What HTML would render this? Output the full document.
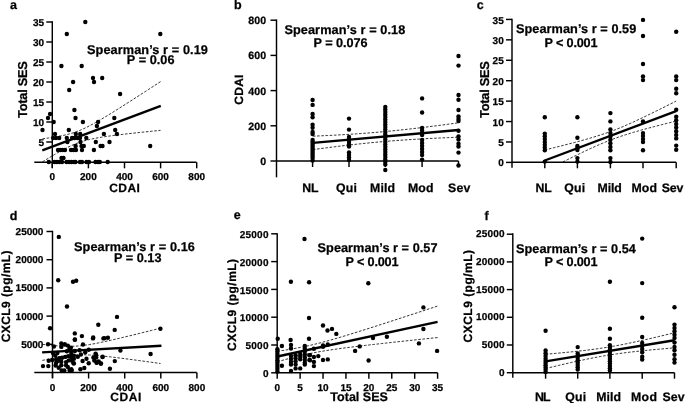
<!DOCTYPE html>
<html><head><meta charset="utf-8"><style>
html,body{margin:0;padding:0;background:#fff;width:685px;height:403px;overflow:hidden}
svg{display:block}
svg{-webkit-font-smoothing:antialiased;filter:grayscale(1) blur(0.3px)}
text{font-family:"Liberation Sans",sans-serif;font-weight:bold;fill:#000;stroke:#000;stroke-width:0.25px;text-rendering:geometricPrecision}
</style></head><body>
<svg width="685" height="403" viewBox="0 0 685 403">
<text x="10.10" y="8.90" font-size="12.5" letter-spacing="0.000">a</text>
<line x1="52.30" y1="21.25" x2="52.30" y2="168.00" stroke="#000" stroke-width="1.45" />
<line x1="46.30" y1="142.00" x2="52.30" y2="142.00" stroke="#000" stroke-width="1.45" />
<text x="38.55" y="145.58" font-size="10.0" letter-spacing="0.000">5</text>
<line x1="46.30" y1="122.00" x2="52.30" y2="122.00" stroke="#000" stroke-width="1.45" />
<text x="33.00" y="125.58" font-size="10.0" letter-spacing="0.000">10</text>
<line x1="46.30" y1="102.00" x2="52.30" y2="102.00" stroke="#000" stroke-width="1.45" />
<text x="33.00" y="105.58" font-size="10.0" letter-spacing="0.000">15</text>
<line x1="46.30" y1="82.00" x2="52.30" y2="82.00" stroke="#000" stroke-width="1.45" />
<text x="33.00" y="85.58" font-size="10.0" letter-spacing="0.000">20</text>
<line x1="46.30" y1="62.00" x2="52.30" y2="62.00" stroke="#000" stroke-width="1.45" />
<text x="33.00" y="65.58" font-size="10.0" letter-spacing="0.000">25</text>
<line x1="46.30" y1="42.00" x2="52.30" y2="42.00" stroke="#000" stroke-width="1.45" />
<text x="33.00" y="45.58" font-size="10.0" letter-spacing="0.000">30</text>
<line x1="46.30" y1="22.00" x2="52.30" y2="22.00" stroke="#000" stroke-width="1.45" />
<text x="33.00" y="25.58" font-size="10.0" letter-spacing="0.000">35</text>
<line x1="34.30" y1="162.30" x2="196.50" y2="162.30" stroke="#000" stroke-width="1.45" />
<line x1="52.30" y1="162.30" x2="52.30" y2="168.30" stroke="#000" stroke-width="1.45" />
<text x="49.52" y="180.06" font-size="10.0" letter-spacing="0.000">0</text>
<line x1="88.40" y1="162.30" x2="88.40" y2="168.30" stroke="#000" stroke-width="1.45" />
<text x="80.05" y="180.06" font-size="10.0" letter-spacing="0.000">200</text>
<line x1="124.50" y1="162.30" x2="124.50" y2="168.30" stroke="#000" stroke-width="1.45" />
<text x="116.15" y="180.06" font-size="10.0" letter-spacing="0.000">400</text>
<line x1="160.60" y1="162.30" x2="160.60" y2="168.30" stroke="#000" stroke-width="1.45" />
<text x="152.25" y="180.06" font-size="10.0" letter-spacing="0.000">600</text>
<line x1="196.70" y1="162.30" x2="196.70" y2="168.30" stroke="#000" stroke-width="1.45" />
<text x="188.35" y="180.06" font-size="10.0" letter-spacing="0.000">800</text>
<text transform="translate(26.60,118.00) rotate(-90)" font-size="12.9" letter-spacing="-0.281">Total SES</text>
<text x="109.30" y="191.70" font-size="12" letter-spacing="0.383">CDAI</text>
<text x="87.00" y="53.60" font-size="12.7" letter-spacing="0.100">Spearman’s r = 0.19</text>
<text x="126.80" y="64.10" font-size="12.7" letter-spacing="0.036">P = 0.06</text>
<circle cx="85.30" cy="22.00" r="2.2"/>
<circle cx="66.80" cy="34.00" r="2.2"/>
<circle cx="160.30" cy="34.00" r="2.2"/>
<circle cx="61.40" cy="66.00" r="2.2"/>
<circle cx="81.70" cy="66.00" r="2.2"/>
<circle cx="73.10" cy="82.00" r="2.2"/>
<circle cx="93.00" cy="78.00" r="2.2"/>
<circle cx="94.00" cy="82.00" r="2.2"/>
<circle cx="102.20" cy="78.00" r="2.2"/>
<circle cx="69.20" cy="90.00" r="2.2"/>
<circle cx="120.10" cy="94.00" r="2.2"/>
<circle cx="74.40" cy="110.00" r="2.2"/>
<circle cx="50.10" cy="114.00" r="2.2"/>
<circle cx="48.00" cy="118.00" r="2.2"/>
<circle cx="75.50" cy="118.00" r="2.2"/>
<circle cx="114.30" cy="118.00" r="2.2"/>
<circle cx="53.70" cy="122.00" r="2.2"/>
<circle cx="82.90" cy="122.00" r="2.2"/>
<circle cx="98.10" cy="122.00" r="2.2"/>
<circle cx="96.90" cy="126.00" r="2.2"/>
<circle cx="42.50" cy="130.00" r="2.2"/>
<circle cx="68.80" cy="130.00" r="2.2"/>
<circle cx="115.20" cy="130.00" r="2.2"/>
<circle cx="55.00" cy="134.00" r="2.2"/>
<circle cx="75.80" cy="134.00" r="2.2"/>
<circle cx="80.20" cy="134.00" r="2.2"/>
<circle cx="103.90" cy="134.00" r="2.2"/>
<circle cx="116.90" cy="134.00" r="2.2"/>
<circle cx="53.20" cy="138.00" r="2.2"/>
<circle cx="56.00" cy="138.00" r="2.2"/>
<circle cx="59.20" cy="138.00" r="2.2"/>
<circle cx="66.80" cy="138.00" r="2.2"/>
<circle cx="72.10" cy="138.00" r="2.2"/>
<circle cx="74.70" cy="138.00" r="2.2"/>
<circle cx="77.40" cy="138.00" r="2.2"/>
<circle cx="80.00" cy="138.00" r="2.2"/>
<circle cx="86.30" cy="138.00" r="2.2"/>
<circle cx="67.40" cy="142.00" r="2.2"/>
<circle cx="80.50" cy="142.00" r="2.2"/>
<circle cx="95.80" cy="142.00" r="2.2"/>
<circle cx="109.50" cy="142.00" r="2.2"/>
<circle cx="75.60" cy="146.00" r="2.2"/>
<circle cx="81.50" cy="146.00" r="2.2"/>
<circle cx="83.80" cy="146.00" r="2.2"/>
<circle cx="100.60" cy="146.00" r="2.2"/>
<circle cx="102.50" cy="146.00" r="2.2"/>
<circle cx="150.20" cy="146.00" r="2.2"/>
<circle cx="58.00" cy="150.00" r="2.2"/>
<circle cx="60.20" cy="150.00" r="2.2"/>
<circle cx="62.50" cy="150.00" r="2.2"/>
<circle cx="65.00" cy="150.00" r="2.2"/>
<circle cx="71.00" cy="150.00" r="2.2"/>
<circle cx="73.50" cy="150.00" r="2.2"/>
<circle cx="76.00" cy="150.00" r="2.2"/>
<circle cx="82.00" cy="150.00" r="2.2"/>
<circle cx="93.90" cy="150.00" r="2.2"/>
<circle cx="61.50" cy="158.00" r="2.2"/>
<circle cx="63.50" cy="158.00" r="2.2"/>
<circle cx="48.80" cy="162.00" r="2.2"/>
<circle cx="54.50" cy="162.00" r="2.2"/>
<circle cx="57.00" cy="162.00" r="2.2"/>
<circle cx="59.50" cy="162.00" r="2.2"/>
<circle cx="62.00" cy="162.00" r="2.2"/>
<circle cx="66.50" cy="162.00" r="2.2"/>
<circle cx="69.00" cy="162.00" r="2.2"/>
<circle cx="71.50" cy="162.00" r="2.2"/>
<circle cx="74.00" cy="162.00" r="2.2"/>
<circle cx="75.50" cy="162.00" r="2.2"/>
<circle cx="80.00" cy="162.00" r="2.2"/>
<circle cx="82.00" cy="162.00" r="2.2"/>
<circle cx="86.50" cy="162.00" r="2.2"/>
<circle cx="89.00" cy="162.00" r="2.2"/>
<circle cx="95.50" cy="162.00" r="2.2"/>
<circle cx="98.00" cy="162.00" r="2.2"/>
<circle cx="99.80" cy="162.00" r="2.2"/>
<circle cx="107.70" cy="162.00" r="2.2"/>
<line x1="42.30" y1="150.40" x2="160.80" y2="105.90" stroke="#000" stroke-width="2.4" />
<path d="M42.50,138.81 L45.45,138.42 L48.40,138.00 L51.35,137.56 L54.30,137.09 L57.25,136.59 L60.20,136.04 L63.15,135.44 L66.10,134.77 L69.05,134.02 L72.00,133.17 L74.95,132.22 L77.90,131.15 L80.85,129.96 L83.80,128.65 L86.75,127.25 L89.70,125.75 L92.65,124.18 L95.60,122.54 L98.55,120.86 L101.50,119.13 L104.45,117.37 L107.40,115.59 L110.35,113.78 L113.30,111.95 L116.25,110.11 L119.20,108.26 L122.15,106.39 L125.10,104.52 L128.05,102.64 L131.00,100.76 L133.95,98.86 L136.90,96.97 L139.85,95.07 L142.80,93.16 L145.75,91.25 L148.70,89.34 L151.65,87.43 L154.60,85.51 L157.55,83.59 L160.50,81.67" fill="none" stroke="#000" stroke-width="0.8" stroke-dasharray="2.6,1.6" stroke="#111"/>
<path d="M42.50,161.84 L45.45,160.02 L48.40,158.22 L51.35,156.44 L54.30,154.69 L57.25,152.98 L60.20,151.31 L63.15,149.70 L66.10,148.16 L69.05,146.69 L72.00,145.32 L74.95,144.06 L77.90,142.92 L80.85,141.89 L83.80,140.98 L86.75,140.17 L89.70,139.45 L92.65,138.81 L95.60,138.23 L98.55,137.70 L101.50,137.21 L104.45,136.75 L107.40,136.32 L110.35,135.91 L113.30,135.52 L116.25,135.15 L119.20,134.79 L122.15,134.43 L125.10,134.09 L128.05,133.75 L131.00,133.43 L133.95,133.10 L136.90,132.78 L139.85,132.47 L142.80,132.16 L145.75,131.85 L148.70,131.55 L151.65,131.24 L154.60,130.94 L157.55,130.65 L160.50,130.35" fill="none" stroke="#000" stroke-width="0.8" stroke-dasharray="2.6,1.6" stroke="#111"/>
<text x="233.90" y="9.40" font-size="12.5" letter-spacing="0.000">b</text>
<line x1="276.50" y1="19.45" x2="276.50" y2="177.30" stroke="#000" stroke-width="1.45" />
<line x1="270.50" y1="161.00" x2="276.50" y2="161.00" stroke="#000" stroke-width="1.45" />
<text x="260.30" y="165.09" font-size="10.6" letter-spacing="0.100">0</text>
<line x1="270.50" y1="125.80" x2="276.50" y2="125.80" stroke="#000" stroke-width="1.45" />
<text x="248.30" y="129.89" font-size="10.6" letter-spacing="0.100">200</text>
<line x1="270.50" y1="90.60" x2="276.50" y2="90.60" stroke="#000" stroke-width="1.45" />
<text x="248.30" y="94.69" font-size="10.6" letter-spacing="0.100">400</text>
<line x1="270.50" y1="55.40" x2="276.50" y2="55.40" stroke="#000" stroke-width="1.45" />
<text x="248.30" y="59.49" font-size="10.6" letter-spacing="0.100">600</text>
<line x1="270.50" y1="20.20" x2="276.50" y2="20.20" stroke="#000" stroke-width="1.45" />
<text x="248.30" y="24.29" font-size="10.6" letter-spacing="0.100">800</text>
<line x1="276.50" y1="161.00" x2="458.50" y2="161.00" stroke="#000" stroke-width="1.45" />
<line x1="312.60" y1="161.00" x2="312.60" y2="167.00" stroke="#000" stroke-width="1.45" />
<line x1="349.00" y1="161.00" x2="349.00" y2="167.00" stroke="#000" stroke-width="1.45" />
<line x1="385.30" y1="161.00" x2="385.30" y2="167.00" stroke="#000" stroke-width="1.45" />
<line x1="422.10" y1="161.00" x2="422.10" y2="167.00" stroke="#000" stroke-width="1.45" />
<line x1="458.50" y1="161.00" x2="458.50" y2="167.00" stroke="#000" stroke-width="1.45" />
<text transform="translate(243.00,104.70) rotate(-90)" font-size="12" letter-spacing="0.250">CDAI</text>
<text x="302.30" y="192.00" font-size="12.3" letter-spacing="-0.300">NL</text>
<text x="336.00" y="192.00" font-size="12.3" letter-spacing="0.250">Qui</text>
<text x="370.00" y="192.00" font-size="12.3" letter-spacing="0.167">Mild</text>
<text x="408.00" y="192.00" font-size="12.3" letter-spacing="0.125">Mod</text>
<text x="448.00" y="192.00" font-size="12.3" letter-spacing="0.200">Sev</text>
<text x="284.40" y="33.90" font-size="12.7" letter-spacing="0.100">Spearman’s r = 0.18</text>
<text x="313.60" y="47.30" font-size="12.7" letter-spacing="-0.063">P = 0.076</text>
<circle cx="312.60" cy="100.00" r="2.2"/>
<circle cx="312.60" cy="104.90" r="2.2"/>
<circle cx="312.60" cy="113.90" r="2.2"/>
<circle cx="312.60" cy="117.30" r="2.2"/>
<circle cx="312.60" cy="124.80" r="2.2"/>
<circle cx="312.60" cy="127.80" r="2.2"/>
<circle cx="312.60" cy="132.00" r="2.2"/>
<circle cx="312.60" cy="134.00" r="2.2"/>
<circle cx="312.60" cy="140.00" r="2.2"/>
<circle cx="312.60" cy="142.00" r="2.2"/>
<circle cx="312.60" cy="144.00" r="2.2"/>
<circle cx="312.60" cy="146.00" r="2.2"/>
<circle cx="312.60" cy="148.00" r="2.2"/>
<circle cx="312.60" cy="150.00" r="2.2"/>
<circle cx="312.60" cy="152.00" r="2.2"/>
<circle cx="312.60" cy="154.00" r="2.2"/>
<circle cx="312.60" cy="156.00" r="2.2"/>
<circle cx="312.60" cy="158.00" r="2.2"/>
<circle cx="312.60" cy="160.50" r="2.2"/>
<circle cx="349.00" cy="118.60" r="2.2"/>
<circle cx="349.00" cy="129.60" r="2.2"/>
<circle cx="349.00" cy="137.00" r="2.2"/>
<circle cx="349.00" cy="139.50" r="2.2"/>
<circle cx="349.00" cy="142.00" r="2.2"/>
<circle cx="349.00" cy="144.50" r="2.2"/>
<circle cx="349.00" cy="146.50" r="2.2"/>
<circle cx="349.00" cy="152.50" r="2.2"/>
<circle cx="349.00" cy="155.00" r="2.2"/>
<circle cx="349.00" cy="157.50" r="2.2"/>
<circle cx="349.00" cy="160.00" r="2.2"/>
<circle cx="385.30" cy="107.00" r="2.2"/>
<circle cx="385.30" cy="109.50" r="2.2"/>
<circle cx="385.30" cy="112.00" r="2.2"/>
<circle cx="385.30" cy="114.50" r="2.2"/>
<circle cx="385.30" cy="117.00" r="2.2"/>
<circle cx="385.30" cy="119.50" r="2.2"/>
<circle cx="385.30" cy="122.00" r="2.2"/>
<circle cx="385.30" cy="124.50" r="2.2"/>
<circle cx="385.30" cy="127.00" r="2.2"/>
<circle cx="385.30" cy="129.50" r="2.2"/>
<circle cx="385.30" cy="132.00" r="2.2"/>
<circle cx="385.30" cy="134.50" r="2.2"/>
<circle cx="385.30" cy="137.00" r="2.2"/>
<circle cx="385.30" cy="139.50" r="2.2"/>
<circle cx="385.30" cy="142.00" r="2.2"/>
<circle cx="385.30" cy="144.50" r="2.2"/>
<circle cx="385.30" cy="147.00" r="2.2"/>
<circle cx="385.30" cy="149.50" r="2.2"/>
<circle cx="385.30" cy="152.00" r="2.2"/>
<circle cx="385.30" cy="154.50" r="2.2"/>
<circle cx="385.30" cy="157.00" r="2.2"/>
<circle cx="385.30" cy="159.50" r="2.2"/>
<circle cx="385.30" cy="162.00" r="2.2"/>
<circle cx="385.30" cy="164.50" r="2.2"/>
<circle cx="385.30" cy="170.00" r="2.2"/>
<circle cx="422.10" cy="98.40" r="2.2"/>
<circle cx="422.10" cy="112.50" r="2.2"/>
<circle cx="422.10" cy="128.00" r="2.2"/>
<circle cx="422.10" cy="130.50" r="2.2"/>
<circle cx="422.10" cy="133.00" r="2.2"/>
<circle cx="422.10" cy="135.00" r="2.2"/>
<circle cx="422.10" cy="140.00" r="2.2"/>
<circle cx="422.10" cy="143.00" r="2.2"/>
<circle cx="422.10" cy="146.00" r="2.2"/>
<circle cx="422.10" cy="149.00" r="2.2"/>
<circle cx="422.10" cy="152.00" r="2.2"/>
<circle cx="422.10" cy="155.00" r="2.2"/>
<circle cx="422.10" cy="159.60" r="2.2"/>
<circle cx="458.50" cy="56.00" r="2.2"/>
<circle cx="458.50" cy="65.60" r="2.2"/>
<circle cx="458.50" cy="95.00" r="2.2"/>
<circle cx="458.50" cy="99.80" r="2.2"/>
<circle cx="458.50" cy="110.00" r="2.2"/>
<circle cx="458.50" cy="116.50" r="2.2"/>
<circle cx="458.50" cy="119.00" r="2.2"/>
<circle cx="458.50" cy="121.00" r="2.2"/>
<circle cx="458.50" cy="130.80" r="2.2"/>
<circle cx="458.50" cy="136.50" r="2.2"/>
<circle cx="458.50" cy="139.50" r="2.2"/>
<circle cx="458.50" cy="143.70" r="2.2"/>
<circle cx="458.50" cy="146.50" r="2.2"/>
<circle cx="458.50" cy="152.60" r="2.2"/>
<circle cx="458.50" cy="165.50" r="2.2"/>
<line x1="312.90" y1="142.90" x2="458.50" y2="130.00" stroke="#000" stroke-width="2.4" />
<path d="M312.90,136.19 L316.54,136.03 L320.18,135.87 L323.82,135.70 L327.46,135.52 L331.10,135.34 L334.74,135.15 L338.38,134.95 L342.02,134.75 L345.66,134.54 L349.30,134.31 L352.94,134.08 L356.58,133.84 L360.22,133.59 L363.86,133.33 L367.50,133.05 L371.14,132.77 L374.78,132.47 L378.42,132.16 L382.06,131.84 L385.70,131.50 L389.34,131.16 L392.98,130.80 L396.62,130.43 L400.26,130.05 L403.90,129.66 L407.54,129.26 L411.18,128.84 L414.82,128.42 L418.46,127.99 L422.10,127.55 L425.74,127.10 L429.38,126.65 L433.02,126.19 L436.66,125.72 L440.30,125.25 L443.94,124.77 L447.58,124.28 L451.22,123.79 L454.86,123.30 L458.50,122.80" fill="none" stroke="#000" stroke-width="0.8" stroke-dasharray="2.6,1.6" stroke="#111"/>
<path d="M312.90,149.61 L316.54,149.12 L320.18,148.64 L323.82,148.17 L327.46,147.70 L331.10,147.23 L334.74,146.78 L338.38,146.33 L342.02,145.89 L345.66,145.46 L349.30,145.04 L352.94,144.62 L356.58,144.22 L360.22,143.83 L363.86,143.44 L367.50,143.07 L371.14,142.71 L374.78,142.37 L378.42,142.03 L382.06,141.71 L385.70,141.40 L389.34,141.10 L392.98,140.81 L396.62,140.53 L400.26,140.27 L403.90,140.02 L407.54,139.77 L411.18,139.54 L414.82,139.32 L418.46,139.10 L422.10,138.90 L425.74,138.70 L429.38,138.51 L433.02,138.33 L436.66,138.15 L440.30,137.98 L443.94,137.81 L447.58,137.65 L451.22,137.50 L454.86,137.35 L458.50,137.20" fill="none" stroke="#000" stroke-width="0.8" stroke-dasharray="2.6,1.6" stroke="#111"/>
<text x="476.80" y="9.00" font-size="12.5" letter-spacing="0.000">c</text>
<line x1="512.00" y1="18.75" x2="512.00" y2="167.80" stroke="#000" stroke-width="1.45" />
<line x1="506.00" y1="162.40" x2="512.00" y2="162.40" stroke="#000" stroke-width="1.45" />
<text x="498.15" y="166.48" font-size="10.0" letter-spacing="0.000">0</text>
<line x1="506.00" y1="141.97" x2="512.00" y2="141.97" stroke="#000" stroke-width="1.45" />
<text x="498.15" y="146.06" font-size="10.0" letter-spacing="0.000">5</text>
<line x1="506.00" y1="121.55" x2="512.00" y2="121.55" stroke="#000" stroke-width="1.45" />
<text x="492.60" y="125.63" font-size="10.0" letter-spacing="0.000">10</text>
<line x1="506.00" y1="101.12" x2="512.00" y2="101.12" stroke="#000" stroke-width="1.45" />
<text x="492.60" y="105.20" font-size="10.0" letter-spacing="0.000">15</text>
<line x1="506.00" y1="80.70" x2="512.00" y2="80.70" stroke="#000" stroke-width="1.45" />
<text x="492.60" y="84.78" font-size="10.0" letter-spacing="0.000">20</text>
<line x1="506.00" y1="60.28" x2="512.00" y2="60.28" stroke="#000" stroke-width="1.45" />
<text x="492.60" y="64.36" font-size="10.0" letter-spacing="0.000">25</text>
<line x1="506.00" y1="39.85" x2="512.00" y2="39.85" stroke="#000" stroke-width="1.45" />
<text x="492.60" y="43.93" font-size="10.0" letter-spacing="0.000">30</text>
<line x1="506.00" y1="19.43" x2="512.00" y2="19.43" stroke="#000" stroke-width="1.45" />
<text x="492.60" y="23.51" font-size="10.0" letter-spacing="0.000">35</text>
<line x1="512.00" y1="162.30" x2="676.20" y2="162.30" stroke="#000" stroke-width="1.45" />
<line x1="544.80" y1="162.30" x2="544.80" y2="168.30" stroke="#000" stroke-width="1.45" />
<line x1="577.40" y1="162.30" x2="577.40" y2="168.30" stroke="#000" stroke-width="1.45" />
<line x1="610.40" y1="162.30" x2="610.40" y2="168.30" stroke="#000" stroke-width="1.45" />
<line x1="643.00" y1="162.30" x2="643.00" y2="168.30" stroke="#000" stroke-width="1.45" />
<line x1="676.20" y1="162.30" x2="676.20" y2="168.30" stroke="#000" stroke-width="1.45" />
<text transform="translate(489.30,118.00) rotate(-90)" font-size="12.9" letter-spacing="-0.281">Total SES</text>
<text x="535.60" y="192.30" font-size="12.3" letter-spacing="-0.200">NL</text>
<text x="564.30" y="192.30" font-size="12.3" letter-spacing="0.200">Qui</text>
<text x="597.50" y="192.30" font-size="12.3" letter-spacing="-0.100">Mild</text>
<text x="631.40" y="192.30" font-size="12.3" letter-spacing="0.125">Mod</text>
<text x="661.70" y="192.30" font-size="12.3" letter-spacing="-0.150">Sev</text>
<text x="516.00" y="32.90" font-size="12.7" letter-spacing="0.067">Spearman’s r = 0.59</text>
<text x="544.60" y="46.70" font-size="12.7" letter-spacing="-0.187">P &lt; 0.001</text>
<circle cx="544.80" cy="117.20" r="2.2"/>
<circle cx="544.80" cy="133.60" r="2.2"/>
<circle cx="544.80" cy="136.30" r="2.2"/>
<circle cx="544.80" cy="139.10" r="2.2"/>
<circle cx="544.80" cy="142.00" r="2.2"/>
<circle cx="544.80" cy="144.80" r="2.2"/>
<circle cx="544.80" cy="147.50" r="2.2"/>
<circle cx="544.80" cy="150.30" r="2.2"/>
<circle cx="544.80" cy="161.60" r="2.2"/>
<circle cx="577.40" cy="117.20" r="2.2"/>
<circle cx="577.40" cy="137.80" r="2.2"/>
<circle cx="577.40" cy="145.90" r="2.2"/>
<circle cx="577.40" cy="148.00" r="2.2"/>
<circle cx="577.40" cy="150.00" r="2.2"/>
<circle cx="577.40" cy="158.10" r="2.2"/>
<circle cx="577.40" cy="161.60" r="2.2"/>
<circle cx="610.40" cy="113.10" r="2.2"/>
<circle cx="610.40" cy="121.40" r="2.2"/>
<circle cx="610.40" cy="129.50" r="2.2"/>
<circle cx="610.40" cy="133.10" r="2.2"/>
<circle cx="610.40" cy="136.30" r="2.2"/>
<circle cx="610.40" cy="139.70" r="2.2"/>
<circle cx="610.40" cy="143.30" r="2.2"/>
<circle cx="610.40" cy="146.90" r="2.2"/>
<circle cx="610.40" cy="150.30" r="2.2"/>
<circle cx="610.40" cy="158.10" r="2.2"/>
<circle cx="610.40" cy="162.00" r="2.2"/>
<circle cx="643.00" cy="19.90" r="2.2"/>
<circle cx="643.00" cy="36.00" r="2.2"/>
<circle cx="643.00" cy="64.00" r="2.2"/>
<circle cx="643.00" cy="76.40" r="2.2"/>
<circle cx="643.00" cy="80.10" r="2.2"/>
<circle cx="643.00" cy="121.40" r="2.2"/>
<circle cx="643.00" cy="133.10" r="2.2"/>
<circle cx="643.00" cy="135.90" r="2.2"/>
<circle cx="643.00" cy="139.10" r="2.2"/>
<circle cx="643.00" cy="142.00" r="2.2"/>
<circle cx="643.00" cy="150.30" r="2.2"/>
<circle cx="676.20" cy="31.80" r="2.2"/>
<circle cx="676.20" cy="76.40" r="2.2"/>
<circle cx="676.20" cy="80.10" r="2.2"/>
<circle cx="676.20" cy="88.70" r="2.2"/>
<circle cx="676.20" cy="93.20" r="2.2"/>
<circle cx="676.20" cy="109.70" r="2.2"/>
<circle cx="676.20" cy="116.80" r="2.2"/>
<circle cx="676.20" cy="120.30" r="2.2"/>
<circle cx="676.20" cy="124.00" r="2.2"/>
<circle cx="676.20" cy="127.50" r="2.2"/>
<circle cx="676.20" cy="131.20" r="2.2"/>
<circle cx="676.20" cy="134.90" r="2.2"/>
<circle cx="676.20" cy="138.40" r="2.2"/>
<circle cx="676.20" cy="145.60" r="2.2"/>
<circle cx="676.20" cy="149.70" r="2.2"/>
<line x1="544.80" y1="160.50" x2="676.10" y2="111.10" stroke="#000" stroke-width="2.4" />
<path d="M544.80,149.99 L548.08,149.18 L551.37,148.37 L554.65,147.55 L557.93,146.73 L561.21,145.90 L564.50,145.06 L567.78,144.22 L571.06,143.37 L574.34,142.51 L577.62,141.63 L580.91,140.74 L584.19,139.84 L587.47,138.92 L590.75,137.97 L594.04,136.99 L597.32,135.99 L600.60,134.95 L603.88,133.86 L607.17,132.73 L610.45,131.55 L613.73,130.33 L617.01,129.05 L620.30,127.72 L623.58,126.34 L626.86,124.92 L630.14,123.47 L633.43,121.98 L636.71,120.46 L639.99,118.92 L643.27,117.36 L646.56,115.78 L649.84,114.19 L653.12,112.58 L656.40,110.97 L659.69,109.34 L662.97,107.71 L666.25,106.07 L669.53,104.42 L672.82,102.77 L676.10,101.11" fill="none" stroke="#000" stroke-width="0.8" stroke-dasharray="2.6,1.6" stroke="#111"/>
<path d="M562.85,161.93 L564.50,161.12 L566.14,160.30 L567.78,159.49 L569.42,158.68 L571.06,157.87 L572.70,157.07 L574.34,156.26 L575.98,155.46 L577.62,154.67 L579.27,153.87 L580.91,153.09 L582.55,152.30 L584.19,151.52 L585.83,150.74 L587.47,149.97 L589.11,149.21 L590.75,148.45 L592.40,147.70 L594.04,146.96 L595.68,146.22 L597.32,145.49 L598.96,144.77 L600.60,144.06 L602.24,143.37 L603.88,142.68 L605.53,142.00 L607.17,141.34 L608.81,140.68 L610.45,140.05 L612.09,139.42 L613.73,138.80 L615.37,138.20 L617.01,137.61 L618.66,137.04 L620.30,136.47 L621.94,135.92 L623.58,135.38 L625.22,134.85 L626.86,134.33 L628.50,133.82 L630.14,133.31 L631.79,132.82 L633.43,132.33 L635.07,131.85 L636.71,131.38 L638.35,130.91 L639.99,130.45 L641.63,129.99 L643.27,129.54 L644.92,129.09 L646.56,128.65 L648.20,128.21 L649.84,127.77 L651.48,127.34 L653.12,126.91 L654.76,126.48 L656.40,126.05 L658.05,125.63 L659.69,125.21 L661.33,124.79 L662.97,124.37 L664.61,123.96 L666.25,123.54 L667.89,123.13 L669.53,122.72 L671.18,122.31 L672.82,121.90 L674.46,121.49 L676.10,121.09" fill="none" stroke="#000" stroke-width="0.8" stroke-dasharray="2.6,1.6" stroke="#111"/>
<text x="9.70" y="219.50" font-size="12.5" letter-spacing="0.000">d</text>
<line x1="52.50" y1="230.75" x2="52.50" y2="378.00" stroke="#000" stroke-width="1.45" />
<line x1="46.50" y1="344.30" x2="52.50" y2="344.30" stroke="#000" stroke-width="1.45" />
<text x="21.15" y="347.88" font-size="10.0" letter-spacing="0.000">5000</text>
<line x1="46.50" y1="316.10" x2="52.50" y2="316.10" stroke="#000" stroke-width="1.45" />
<text x="15.60" y="319.68" font-size="10.0" letter-spacing="0.000">10000</text>
<line x1="46.50" y1="287.90" x2="52.50" y2="287.90" stroke="#000" stroke-width="1.45" />
<text x="15.60" y="291.48" font-size="10.0" letter-spacing="0.000">15000</text>
<line x1="46.50" y1="259.70" x2="52.50" y2="259.70" stroke="#000" stroke-width="1.45" />
<text x="15.60" y="263.28" font-size="10.0" letter-spacing="0.000">20000</text>
<line x1="46.50" y1="231.50" x2="52.50" y2="231.50" stroke="#000" stroke-width="1.45" />
<text x="15.60" y="235.08" font-size="10.0" letter-spacing="0.000">25000</text>
<line x1="34.30" y1="372.50" x2="196.80" y2="372.50" stroke="#000" stroke-width="1.45" />
<line x1="52.50" y1="372.50" x2="52.50" y2="378.50" stroke="#000" stroke-width="1.45" />
<text x="49.73" y="390.86" font-size="10.0" letter-spacing="0.000">0</text>
<line x1="88.60" y1="372.50" x2="88.60" y2="378.50" stroke="#000" stroke-width="1.45" />
<text x="80.25" y="390.86" font-size="10.0" letter-spacing="0.000">200</text>
<line x1="124.70" y1="372.50" x2="124.70" y2="378.50" stroke="#000" stroke-width="1.45" />
<text x="116.35" y="390.86" font-size="10.0" letter-spacing="0.000">400</text>
<line x1="160.80" y1="372.50" x2="160.80" y2="378.50" stroke="#000" stroke-width="1.45" />
<text x="152.45" y="390.86" font-size="10.0" letter-spacing="0.000">600</text>
<line x1="196.90" y1="372.50" x2="196.90" y2="378.50" stroke="#000" stroke-width="1.45" />
<text x="188.55" y="390.86" font-size="10.0" letter-spacing="0.000">800</text>
<text transform="translate(10.00,342.30) rotate(-90)" font-size="12" letter-spacing="0.429">CXCL9 (pg/mL)</text>
<text x="110.30" y="401.00" font-size="12" letter-spacing="0.583">CDAI</text>
<text x="74.00" y="251.00" font-size="12.7" letter-spacing="0.100">Spearman’s r = 0.16</text>
<text x="114.00" y="261.80" font-size="12.7" letter-spacing="0.007">P = 0.13</text>
<circle cx="58.80" cy="236.90" r="2.2"/>
<circle cx="58.20" cy="280.20" r="2.2"/>
<circle cx="73.00" cy="281.80" r="2.2"/>
<circle cx="76.20" cy="280.80" r="2.2"/>
<circle cx="67.00" cy="306.50" r="2.2"/>
<circle cx="117.00" cy="316.90" r="2.2"/>
<circle cx="98.30" cy="324.80" r="2.2"/>
<circle cx="50.10" cy="328.30" r="2.2"/>
<circle cx="114.70" cy="329.90" r="2.2"/>
<circle cx="160.40" cy="328.70" r="2.2"/>
<circle cx="74.80" cy="333.40" r="2.2"/>
<circle cx="81.90" cy="336.10" r="2.2"/>
<circle cx="93.20" cy="337.50" r="2.2"/>
<circle cx="104.40" cy="338.10" r="2.2"/>
<circle cx="107.90" cy="337.80" r="2.2"/>
<circle cx="74.90" cy="339.50" r="2.2"/>
<circle cx="120.40" cy="350.60" r="2.2"/>
<circle cx="150.60" cy="354.00" r="2.2"/>
<circle cx="114.80" cy="361.10" r="2.2"/>
<circle cx="109.90" cy="368.80" r="2.2"/>
<circle cx="102.50" cy="357.10" r="2.2"/>
<circle cx="96.00" cy="354.60" r="2.2"/>
<circle cx="96.20" cy="357.50" r="2.2"/>
<circle cx="97.00" cy="362.50" r="2.2"/>
<circle cx="101.00" cy="363.50" r="2.2"/>
<circle cx="48.00" cy="344.30" r="2.2"/>
<circle cx="53.90" cy="346.50" r="2.2"/>
<circle cx="61.30" cy="343.50" r="2.2"/>
<circle cx="61.30" cy="346.90" r="2.2"/>
<circle cx="64.80" cy="344.30" r="2.2"/>
<circle cx="67.80" cy="345.60" r="2.2"/>
<circle cx="69.50" cy="348.70" r="2.2"/>
<circle cx="53.00" cy="353.00" r="2.2"/>
<circle cx="57.40" cy="353.00" r="2.2"/>
<circle cx="55.20" cy="355.60" r="2.2"/>
<circle cx="66.90" cy="351.30" r="2.2"/>
<circle cx="71.30" cy="353.90" r="2.2"/>
<circle cx="48.70" cy="360.80" r="2.2"/>
<circle cx="52.20" cy="360.00" r="2.2"/>
<circle cx="56.10" cy="359.50" r="2.2"/>
<circle cx="59.10" cy="358.20" r="2.2"/>
<circle cx="62.10" cy="357.80" r="2.2"/>
<circle cx="65.20" cy="356.90" r="2.2"/>
<circle cx="68.20" cy="356.10" r="2.2"/>
<circle cx="71.30" cy="357.40" r="2.2"/>
<circle cx="73.90" cy="355.60" r="2.2"/>
<circle cx="56.10" cy="363.00" r="2.2"/>
<circle cx="58.20" cy="360.80" r="2.2"/>
<circle cx="61.30" cy="361.70" r="2.2"/>
<circle cx="66.10" cy="362.10" r="2.2"/>
<circle cx="68.70" cy="360.40" r="2.2"/>
<circle cx="72.10" cy="360.80" r="2.2"/>
<circle cx="73.90" cy="363.40" r="2.2"/>
<circle cx="43.00" cy="366.10" r="2.2"/>
<circle cx="48.30" cy="366.10" r="2.2"/>
<circle cx="55.60" cy="365.60" r="2.2"/>
<circle cx="58.70" cy="367.80" r="2.2"/>
<circle cx="61.30" cy="365.20" r="2.2"/>
<circle cx="66.10" cy="365.20" r="2.2"/>
<circle cx="67.80" cy="366.90" r="2.2"/>
<circle cx="61.70" cy="370.40" r="2.2"/>
<circle cx="64.30" cy="370.40" r="2.2"/>
<circle cx="69.50" cy="370.00" r="2.2"/>
<circle cx="71.70" cy="370.40" r="2.2"/>
<circle cx="74.80" cy="339.70" r="2.2"/>
<circle cx="83.00" cy="344.50" r="2.2"/>
<circle cx="93.00" cy="338.40" r="2.2"/>
<circle cx="103.40" cy="338.40" r="2.2"/>
<circle cx="70.90" cy="347.60" r="2.2"/>
<circle cx="70.90" cy="351.00" r="2.2"/>
<circle cx="74.80" cy="351.00" r="2.2"/>
<circle cx="79.60" cy="350.20" r="2.2"/>
<circle cx="85.20" cy="352.30" r="2.2"/>
<circle cx="88.70" cy="349.70" r="2.2"/>
<circle cx="80.90" cy="354.50" r="2.2"/>
<circle cx="71.70" cy="356.70" r="2.2"/>
<circle cx="73.90" cy="358.80" r="2.2"/>
<circle cx="77.80" cy="356.70" r="2.2"/>
<circle cx="82.60" cy="361.00" r="2.2"/>
<circle cx="86.50" cy="358.80" r="2.2"/>
<circle cx="88.70" cy="363.20" r="2.2"/>
<circle cx="73.50" cy="363.20" r="2.2"/>
<circle cx="95.60" cy="353.60" r="2.2"/>
<circle cx="93.40" cy="357.50" r="2.2"/>
<circle cx="94.30" cy="360.60" r="2.2"/>
<circle cx="96.50" cy="362.80" r="2.2"/>
<circle cx="100.80" cy="363.60" r="2.2"/>
<circle cx="102.60" cy="356.70" r="2.2"/>
<circle cx="98.70" cy="361.40" r="2.2"/>
<circle cx="71.30" cy="369.30" r="2.2"/>
<circle cx="80.40" cy="369.30" r="2.2"/>
<circle cx="84.30" cy="368.00" r="2.2"/>
<line x1="42.10" y1="352.40" x2="161.40" y2="345.80" stroke="#000" stroke-width="2.4" />
<path d="M42.40,344.35 L45.35,344.68 L48.30,344.99 L51.26,345.28 L54.21,345.55 L57.16,345.79 L60.11,345.99 L63.07,346.15 L66.02,346.26 L68.97,346.30 L71.92,346.28 L74.88,346.18 L77.83,346.00 L80.78,345.73 L83.73,345.40 L86.69,345.00 L89.64,344.54 L92.59,344.03 L95.54,343.49 L98.50,342.91 L101.45,342.30 L104.40,341.67 L107.35,341.03 L110.31,340.37 L113.26,339.69 L116.21,339.01 L119.16,338.32 L122.12,337.62 L125.07,336.91 L128.02,336.20 L130.97,335.49 L133.93,334.77 L136.88,334.04 L139.83,333.32 L142.78,332.59 L145.74,331.86 L148.69,331.12 L151.64,330.39 L154.59,329.65 L157.55,328.91 L160.50,328.17" fill="none" stroke="#000" stroke-width="0.8" stroke-dasharray="2.6,1.6" stroke="#111"/>
<path d="M42.40,360.42 L45.35,359.76 L48.30,359.12 L51.26,358.51 L54.21,357.91 L57.16,357.35 L60.11,356.82 L63.07,356.33 L66.02,355.90 L68.97,355.52 L71.92,355.22 L74.88,355.00 L77.83,354.85 L80.78,354.79 L83.73,354.79 L86.69,354.87 L89.64,355.00 L92.59,355.18 L95.54,355.40 L98.50,355.65 L101.45,355.93 L104.40,356.23 L107.35,356.55 L110.31,356.89 L113.26,357.23 L116.21,357.59 L119.16,357.96 L122.12,358.33 L125.07,358.71 L128.02,359.09 L130.97,359.48 L133.93,359.87 L136.88,360.27 L139.83,360.67 L142.78,361.07 L145.74,361.47 L148.69,361.88 L151.64,362.29 L154.59,362.70 L157.55,363.11 L160.50,363.52" fill="none" stroke="#000" stroke-width="0.8" stroke-dasharray="2.6,1.6" stroke="#111"/>
<text x="233.70" y="219.40" font-size="12.5" letter-spacing="0.000">e</text>
<line x1="277.20" y1="233.15" x2="277.20" y2="372.80" stroke="#000" stroke-width="1.45" />
<line x1="271.20" y1="372.80" x2="277.20" y2="372.80" stroke="#000" stroke-width="1.45" />
<text x="262.95" y="377.08" font-size="10.0" letter-spacing="0.250">0</text>
<line x1="271.20" y1="345.00" x2="277.20" y2="345.00" stroke="#000" stroke-width="1.45" />
<text x="245.50" y="349.28" font-size="10.0" letter-spacing="0.250">5000</text>
<line x1="271.20" y1="317.20" x2="277.20" y2="317.20" stroke="#000" stroke-width="1.45" />
<text x="239.70" y="321.48" font-size="10.0" letter-spacing="0.250">10000</text>
<line x1="271.20" y1="289.40" x2="277.20" y2="289.40" stroke="#000" stroke-width="1.45" />
<text x="239.70" y="293.68" font-size="10.0" letter-spacing="0.250">15000</text>
<line x1="271.20" y1="261.60" x2="277.20" y2="261.60" stroke="#000" stroke-width="1.45" />
<text x="239.70" y="265.88" font-size="10.0" letter-spacing="0.250">20000</text>
<line x1="271.20" y1="233.80" x2="277.20" y2="233.80" stroke="#000" stroke-width="1.45" />
<text x="239.70" y="238.08" font-size="10.0" letter-spacing="0.250">25000</text>
<line x1="277.20" y1="372.80" x2="437.60" y2="372.80" stroke="#000" stroke-width="1.45" />
<line x1="277.20" y1="372.80" x2="277.20" y2="378.80" stroke="#000" stroke-width="1.45" />
<text x="274.43" y="390.66" font-size="10.0" letter-spacing="0.000">0</text>
<line x1="300.12" y1="372.80" x2="300.12" y2="378.80" stroke="#000" stroke-width="1.45" />
<text x="297.34" y="390.66" font-size="10.0" letter-spacing="0.000">5</text>
<line x1="323.03" y1="372.80" x2="323.03" y2="378.80" stroke="#000" stroke-width="1.45" />
<text x="317.48" y="390.66" font-size="10.0" letter-spacing="0.000">10</text>
<line x1="345.94" y1="372.80" x2="345.94" y2="378.80" stroke="#000" stroke-width="1.45" />
<text x="340.39" y="390.66" font-size="10.0" letter-spacing="0.000">15</text>
<line x1="368.86" y1="372.80" x2="368.86" y2="378.80" stroke="#000" stroke-width="1.45" />
<text x="363.31" y="390.66" font-size="10.0" letter-spacing="0.000">20</text>
<line x1="391.77" y1="372.80" x2="391.77" y2="378.80" stroke="#000" stroke-width="1.45" />
<text x="386.22" y="390.66" font-size="10.0" letter-spacing="0.000">25</text>
<line x1="414.69" y1="372.80" x2="414.69" y2="378.80" stroke="#000" stroke-width="1.45" />
<text x="409.14" y="390.66" font-size="10.0" letter-spacing="0.000">30</text>
<line x1="437.61" y1="372.80" x2="437.61" y2="378.80" stroke="#000" stroke-width="1.45" />
<text x="432.06" y="390.66" font-size="10.0" letter-spacing="0.000">35</text>
<text transform="translate(236.30,350.90) rotate(-90)" font-size="12" letter-spacing="0.438">CXCL9 (pg/mL)</text>
<text x="330.30" y="401.40" font-size="12.5" letter-spacing="0.025">Total SES</text>
<text x="317.60" y="252.10" font-size="12.7" letter-spacing="0.044">Spearman’s r = 0.57</text>
<text x="345.60" y="266.30" font-size="12.7" letter-spacing="-0.188">P &lt; 0.001</text>
<circle cx="304.50" cy="239.00" r="2.2"/>
<circle cx="290.90" cy="281.80" r="2.2"/>
<circle cx="309.10" cy="282.20" r="2.2"/>
<circle cx="368.30" cy="283.30" r="2.2"/>
<circle cx="309.00" cy="318.00" r="2.2"/>
<circle cx="323.00" cy="325.50" r="2.2"/>
<circle cx="327.50" cy="330.50" r="2.2"/>
<circle cx="332.00" cy="328.90" r="2.2"/>
<circle cx="336.30" cy="333.90" r="2.2"/>
<circle cx="277.70" cy="338.70" r="2.2"/>
<circle cx="290.60" cy="340.00" r="2.2"/>
<circle cx="309.00" cy="338.80" r="2.2"/>
<circle cx="373.00" cy="338.00" r="2.2"/>
<circle cx="386.90" cy="336.70" r="2.2"/>
<circle cx="423.40" cy="307.40" r="2.2"/>
<circle cx="423.40" cy="329.00" r="2.2"/>
<circle cx="418.90" cy="343.40" r="2.2"/>
<circle cx="437.10" cy="350.90" r="2.2"/>
<circle cx="368.60" cy="360.50" r="2.2"/>
<circle cx="323.00" cy="345.40" r="2.2"/>
<circle cx="323.00" cy="346.80" r="2.2"/>
<circle cx="327.80" cy="344.50" r="2.2"/>
<circle cx="313.90" cy="348.70" r="2.2"/>
<circle cx="313.90" cy="357.00" r="2.2"/>
<circle cx="313.90" cy="361.90" r="2.2"/>
<circle cx="313.90" cy="366.10" r="2.2"/>
<circle cx="318.30" cy="356.10" r="2.2"/>
<circle cx="310.00" cy="355.10" r="2.2"/>
<circle cx="310.00" cy="360.30" r="2.2"/>
<circle cx="323.00" cy="360.00" r="2.2"/>
<circle cx="327.80" cy="359.40" r="2.2"/>
<circle cx="355.10" cy="350.90" r="2.2"/>
<circle cx="359.70" cy="346.40" r="2.2"/>
<circle cx="281.90" cy="346.00" r="2.2"/>
<circle cx="281.90" cy="365.80" r="2.2"/>
<circle cx="291.00" cy="345.00" r="2.2"/>
<circle cx="291.00" cy="348.50" r="2.2"/>
<circle cx="291.00" cy="356.00" r="2.2"/>
<circle cx="291.00" cy="359.00" r="2.2"/>
<circle cx="291.00" cy="362.00" r="2.2"/>
<circle cx="291.00" cy="364.50" r="2.2"/>
<circle cx="291.00" cy="371.00" r="2.2"/>
<circle cx="295.60" cy="355.30" r="2.2"/>
<circle cx="295.60" cy="358.30" r="2.2"/>
<circle cx="295.60" cy="361.30" r="2.2"/>
<circle cx="295.60" cy="364.50" r="2.2"/>
<circle cx="295.60" cy="368.40" r="2.2"/>
<circle cx="300.20" cy="354.00" r="2.2"/>
<circle cx="300.20" cy="356.60" r="2.2"/>
<circle cx="300.20" cy="359.20" r="2.2"/>
<circle cx="300.20" cy="368.40" r="2.2"/>
<circle cx="304.80" cy="346.00" r="2.2"/>
<circle cx="304.80" cy="348.80" r="2.2"/>
<circle cx="304.80" cy="351.60" r="2.2"/>
<circle cx="304.80" cy="354.40" r="2.2"/>
<circle cx="304.80" cy="357.20" r="2.2"/>
<circle cx="304.80" cy="360.00" r="2.2"/>
<circle cx="304.80" cy="362.80" r="2.2"/>
<circle cx="304.80" cy="364.50" r="2.2"/>
<circle cx="309.40" cy="355.30" r="2.2"/>
<circle cx="309.40" cy="359.90" r="2.2"/>
<circle cx="277.40" cy="349.30" r="2.2"/>
<circle cx="277.40" cy="351.50" r="2.2"/>
<circle cx="277.40" cy="353.70" r="2.2"/>
<circle cx="277.40" cy="355.90" r="2.2"/>
<circle cx="277.40" cy="358.10" r="2.2"/>
<circle cx="277.40" cy="360.30" r="2.2"/>
<circle cx="277.40" cy="362.50" r="2.2"/>
<circle cx="277.40" cy="364.70" r="2.2"/>
<circle cx="277.40" cy="366.90" r="2.2"/>
<circle cx="277.40" cy="369.10" r="2.2"/>
<circle cx="277.40" cy="371.50" r="2.2"/>
<line x1="277.40" y1="356.50" x2="437.60" y2="321.80" stroke="#000" stroke-width="2.4" />
<path d="M277.40,351.24 L281.40,350.65 L285.41,350.04 L289.41,349.39 L293.42,348.71 L297.42,347.98 L301.43,347.20 L305.44,346.37 L309.44,345.49 L313.44,344.55 L317.45,343.57 L321.45,342.54 L325.46,341.46 L329.46,340.36 L333.47,339.22 L337.48,338.05 L341.48,336.87 L345.49,335.66 L349.49,334.44 L353.50,333.21 L357.50,331.96 L361.50,330.71 L365.51,329.44 L369.51,328.17 L373.52,326.90 L377.52,325.61 L381.53,324.33 L385.54,323.04 L389.54,321.74 L393.55,320.45 L397.55,319.15 L401.56,317.84 L405.56,316.54 L409.56,315.23 L413.57,313.93 L417.58,312.62 L421.58,311.31 L425.59,309.99 L429.59,308.68 L433.60,307.37 L437.60,306.05" fill="none" stroke="#000" stroke-width="0.8" stroke-dasharray="2.6,1.6" stroke="#111"/>
<path d="M277.40,361.76 L281.40,360.61 L285.41,359.49 L289.41,358.40 L293.42,357.35 L297.42,356.35 L301.43,355.39 L305.44,354.49 L309.44,353.63 L313.44,352.83 L317.45,352.08 L321.45,351.38 L325.46,350.72 L329.46,350.09 L333.47,349.49 L337.48,348.92 L341.48,348.37 L345.49,347.84 L349.49,347.33 L353.50,346.83 L357.50,346.34 L361.50,345.86 L365.51,345.39 L369.51,344.92 L373.52,344.46 L377.52,344.01 L381.53,343.56 L385.54,343.12 L389.54,342.68 L393.55,342.24 L397.55,341.80 L401.56,341.37 L405.56,340.94 L409.56,340.51 L413.57,340.08 L417.58,339.66 L421.58,339.23 L425.59,338.81 L429.59,338.39 L433.60,337.97 L437.60,337.55" fill="none" stroke="#000" stroke-width="0.8" stroke-dasharray="2.6,1.6" stroke="#111"/>
<text x="484.50" y="219.80" font-size="12.5" letter-spacing="0.000">f</text>
<line x1="512.80" y1="233.25" x2="512.80" y2="377.80" stroke="#000" stroke-width="1.45" />
<line x1="506.80" y1="372.70" x2="512.80" y2="372.70" stroke="#000" stroke-width="1.45" />
<text x="498.95" y="375.88" font-size="10.0" letter-spacing="0.150">0</text>
<line x1="506.80" y1="345.00" x2="512.80" y2="345.00" stroke="#000" stroke-width="1.45" />
<text x="481.80" y="348.18" font-size="10.0" letter-spacing="0.150">5000</text>
<line x1="506.80" y1="317.30" x2="512.80" y2="317.30" stroke="#000" stroke-width="1.45" />
<text x="476.10" y="320.48" font-size="10.0" letter-spacing="0.150">10000</text>
<line x1="506.80" y1="289.60" x2="512.80" y2="289.60" stroke="#000" stroke-width="1.45" />
<text x="476.10" y="292.78" font-size="10.0" letter-spacing="0.150">15000</text>
<line x1="506.80" y1="261.90" x2="512.80" y2="261.90" stroke="#000" stroke-width="1.45" />
<text x="476.10" y="265.08" font-size="10.0" letter-spacing="0.150">20000</text>
<line x1="506.80" y1="234.20" x2="512.80" y2="234.20" stroke="#000" stroke-width="1.45" />
<text x="476.10" y="237.38" font-size="10.0" letter-spacing="0.150">25000</text>
<line x1="512.80" y1="372.70" x2="674.50" y2="372.70" stroke="#000" stroke-width="1.45" />
<line x1="545.60" y1="372.70" x2="545.60" y2="378.70" stroke="#000" stroke-width="1.45" />
<line x1="577.70" y1="372.70" x2="577.70" y2="378.70" stroke="#000" stroke-width="1.45" />
<line x1="609.90" y1="372.70" x2="609.90" y2="378.70" stroke="#000" stroke-width="1.45" />
<line x1="642.20" y1="372.70" x2="642.20" y2="378.70" stroke="#000" stroke-width="1.45" />
<line x1="674.50" y1="372.70" x2="674.50" y2="378.70" stroke="#000" stroke-width="1.45" />
<text transform="translate(472.20,342.40) rotate(-90)" font-size="12" letter-spacing="0.479">CXCL9 (pg/mL)</text>
<text x="534.90" y="401.30" font-size="12.3" letter-spacing="-0.700">NL</text>
<text x="565.30" y="401.30" font-size="12.3" letter-spacing="0.150">Qui</text>
<text x="596.30" y="401.30" font-size="12.3" letter-spacing="0.067">Mild</text>
<text x="630.90" y="401.30" font-size="12.3" letter-spacing="0.375">Mod</text>
<text x="662.40" y="401.30" font-size="12.3" letter-spacing="0.200">Sev</text>
<text x="516.00" y="252.50" font-size="12.7" letter-spacing="0.044">Spearman’s r = 0.54</text>
<text x="544.60" y="266.30" font-size="12.7" letter-spacing="-0.187">P &lt; 0.001</text>
<circle cx="545.60" cy="330.70" r="2.2"/>
<circle cx="545.60" cy="350.50" r="2.2"/>
<circle cx="545.60" cy="353.30" r="2.2"/>
<circle cx="545.60" cy="356.00" r="2.2"/>
<circle cx="545.60" cy="358.70" r="2.2"/>
<circle cx="545.60" cy="360.90" r="2.2"/>
<circle cx="545.60" cy="363.10" r="2.2"/>
<circle cx="545.60" cy="365.30" r="2.2"/>
<circle cx="545.60" cy="367.50" r="2.2"/>
<circle cx="545.60" cy="369.70" r="2.2"/>
<circle cx="545.60" cy="371.90" r="2.2"/>
<circle cx="577.70" cy="347.10" r="2.2"/>
<circle cx="577.70" cy="353.50" r="2.2"/>
<circle cx="577.70" cy="355.80" r="2.2"/>
<circle cx="577.70" cy="358.10" r="2.2"/>
<circle cx="577.70" cy="360.40" r="2.2"/>
<circle cx="577.70" cy="362.70" r="2.2"/>
<circle cx="577.70" cy="365.00" r="2.2"/>
<circle cx="577.70" cy="367.30" r="2.2"/>
<circle cx="577.70" cy="369.60" r="2.2"/>
<circle cx="609.90" cy="281.80" r="2.2"/>
<circle cx="609.90" cy="328.70" r="2.2"/>
<circle cx="609.90" cy="338.70" r="2.2"/>
<circle cx="609.90" cy="345.20" r="2.2"/>
<circle cx="609.90" cy="347.50" r="2.2"/>
<circle cx="609.90" cy="349.80" r="2.2"/>
<circle cx="609.90" cy="352.10" r="2.2"/>
<circle cx="609.90" cy="354.40" r="2.2"/>
<circle cx="609.90" cy="356.70" r="2.2"/>
<circle cx="609.90" cy="359.00" r="2.2"/>
<circle cx="609.90" cy="361.30" r="2.2"/>
<circle cx="609.90" cy="363.60" r="2.2"/>
<circle cx="609.90" cy="365.90" r="2.2"/>
<circle cx="609.90" cy="368.20" r="2.2"/>
<circle cx="609.90" cy="370.40" r="2.2"/>
<circle cx="642.20" cy="238.60" r="2.2"/>
<circle cx="642.20" cy="283.10" r="2.2"/>
<circle cx="642.20" cy="317.70" r="2.2"/>
<circle cx="642.20" cy="337.00" r="2.2"/>
<circle cx="642.20" cy="343.00" r="2.2"/>
<circle cx="642.20" cy="346.00" r="2.2"/>
<circle cx="642.20" cy="349.00" r="2.2"/>
<circle cx="642.20" cy="352.20" r="2.2"/>
<circle cx="642.20" cy="356.70" r="2.2"/>
<circle cx="642.20" cy="359.50" r="2.2"/>
<circle cx="674.50" cy="307.20" r="2.2"/>
<circle cx="674.50" cy="324.60" r="2.2"/>
<circle cx="674.50" cy="328.00" r="2.2"/>
<circle cx="674.50" cy="331.30" r="2.2"/>
<circle cx="674.50" cy="334.70" r="2.2"/>
<circle cx="674.50" cy="338.00" r="2.2"/>
<circle cx="674.50" cy="342.50" r="2.2"/>
<circle cx="674.50" cy="347.00" r="2.2"/>
<circle cx="674.50" cy="350.30" r="2.2"/>
<circle cx="674.50" cy="354.80" r="2.2"/>
<circle cx="674.50" cy="359.30" r="2.2"/>
<circle cx="674.50" cy="362.60" r="2.2"/>
<line x1="545.60" y1="361.40" x2="674.50" y2="340.30" stroke="#000" stroke-width="2.4" />
<path d="M545.60,354.26 L548.82,353.98 L552.05,353.70 L555.27,353.41 L558.49,353.12 L561.71,352.82 L564.94,352.51 L568.16,352.20 L571.38,351.88 L574.60,351.54 L577.83,351.20 L581.05,350.84 L584.27,350.47 L587.49,350.08 L590.72,349.67 L593.94,349.25 L597.16,348.80 L600.38,348.34 L603.61,347.85 L606.83,347.34 L610.05,346.80 L613.27,346.25 L616.50,345.67 L619.72,345.06 L622.94,344.44 L626.16,343.80 L629.38,343.14 L632.61,342.46 L635.83,341.77 L639.05,341.07 L642.27,340.35 L645.50,339.62 L648.72,338.89 L651.94,338.14 L655.16,337.39 L658.39,336.63 L661.61,335.86 L664.83,335.09 L668.05,334.31 L671.28,333.53 L674.50,332.75" fill="none" stroke="#000" stroke-width="0.8" stroke-dasharray="2.6,1.6" stroke="#111"/>
<path d="M545.60,368.54 L548.82,367.77 L552.05,366.99 L555.27,366.22 L558.49,365.46 L561.71,364.70 L564.94,363.96 L568.16,363.21 L571.38,362.48 L574.60,361.76 L577.83,361.05 L581.05,360.36 L584.27,359.67 L587.49,359.01 L590.72,358.36 L593.94,357.73 L597.16,357.12 L600.38,356.53 L603.61,355.96 L606.83,355.42 L610.05,354.90 L613.27,354.40 L616.50,353.92 L619.72,353.47 L622.94,353.04 L626.16,352.63 L629.38,352.23 L632.61,351.85 L635.83,351.49 L639.05,351.14 L642.27,350.80 L645.50,350.47 L648.72,350.15 L651.94,349.85 L655.16,349.54 L658.39,349.25 L661.61,348.96 L664.83,348.68 L668.05,348.40 L671.28,348.12 L674.50,347.85" fill="none" stroke="#000" stroke-width="0.8" stroke-dasharray="2.6,1.6" stroke="#111"/>
</svg></body></html>
